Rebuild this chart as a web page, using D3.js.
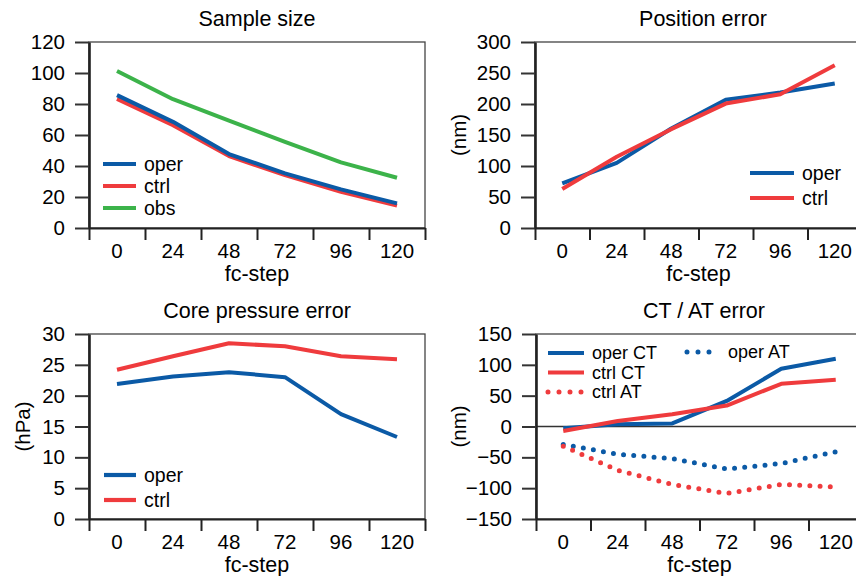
<!DOCTYPE html>
<html>
<head>
<meta charset="utf-8">
<script src="https://cdn.jsdelivr.net/npm/d3@7"></script>
<style>
  body { margin: 0; background: #fff; }
  svg { display: block; font-family: "Liberation Sans", Arial, sans-serif; }
</style>
</head>
<body>
<div id="chart"></div>
<script>
// forecast steps (hours)
const steps = ["0", "24", "48", "72", "96", "120"];

// Sample size
const sampleOper = [85.7, 68.5, 47.7, 35.2, 24.9, 15.9];
const sampleCtrl = [83.3, 66.3, 46.4, 34.1, 23.4, 14.4];
const sampleObs = [101.3, 83.1, 69.3, 55.6, 42.3, 32.4];

// Position error (nm)
const posOper = [71.9, 105, 160.5, 207, 218.4, 233];
const posCtrl = [62.8, 114.8, 159.4, 200.7, 215.7, 262.4];

// Core pressure error (hPa)
const presOper = [21.9, 23.1, 23.8, 23.0, 17.0, 13.3];
const presCtrl = [24.2, 26.4, 28.5, 28.0, 26.4, 25.9];

// CT / AT error (nm)
const ctOper = [-3, 3.5, 5, 41.5, 93.6, 110];
const ctCtrl = [-7.3, 9, 19.8, 34, 69.2, 75.7];
const atOper = [-29, -45, -52, -69, -60, -41];
const atCtrl = [-32, -71, -94, -108.5, -94, -98];

const yTicksSample = d3.range(0, 121, 20);
const yTicksPos = d3.range(0, 301, 50);
const yTicksPres = d3.range(0, 31, 5);
const yTicksCt = d3.range(-150, 151, 50);

const BLUE = "#0b5aa6", RED = "#ef3b3d", GREEN = "#3cb34a";

const svg = d3.select("#chart").append("svg")
  .attr("width", 856)
  .attr("height", 576);

function drawPanel(p) {
  const w = p.width, h = p.height;
  const g = svg.append("g").attr("transform", `translate(${p.left},${p.top})`);

  const x = d3.scaleBand().domain(steps).range([0, w]);
  const y = d3.scaleLinear().domain(p.domain).range([h, 0]);

  // frame
  g.append("rect")
    .attr("width", w).attr("height", h)
    .attr("fill", "none").attr("stroke", "#444").attr("stroke-width", 1.3);

  // zero line
  if (p.zero) {
    g.append("line")
      .attr("x1", 0).attr("x2", w)
      .attr("y1", y(0)).attr("y2", y(0))
      .attr("stroke", "#333").attr("stroke-width", 1.3);
  }

  // y axis
  g.append("g")
    .call(d3.axisLeft(y).tickValues(p.yTicks).tickSize(14).tickPadding(10).tickSizeOuter(0))
    .call(a => a.select(".domain").attr("stroke", "#222").attr("stroke-width", 2.6))
    .call(a => a.selectAll(".tick line").attr("stroke", "#333").attr("stroke-width", 2))
    .call(a => a.selectAll("text").attr("fill", "#000").style("font-size", "20.5px"));

  // x axis: tick marks at band edges, labels at band centres
  const edge = d3.scaleLinear().domain([0, steps.length]).range([0, w]);
  g.append("g")
    .attr("transform", `translate(0,${h})`)
    .call(d3.axisBottom(edge).ticks(steps.length).tickSize(12).tickFormat("").tickSizeOuter(0))
    .call(a => a.select(".domain").attr("stroke", "#222").attr("stroke-width", 2))
    .call(a => a.selectAll(".tick line").attr("stroke", "#222").attr("stroke-width", 2));

  g.append("g")
    .attr("transform", `translate(0,${h})`)
    .call(d3.axisBottom(x).tickSize(0).tickPadding(15.5))
    .call(a => a.select(".domain").remove())
    .call(a => a.selectAll("text").attr("fill", "#000").style("font-size", "20.5px"));

  g.append("text")
    .attr("x", w / 2).attr("y", h + 53)
    .attr("text-anchor", "middle")
    .attr("fill", "#000")
    .style("font-size", "21.5px")
    .text("fc-step");

  g.append("text")
    .attr("x", 168).attr("y", -16)
    .attr("text-anchor", "middle")
    .attr("fill", "#000")
    .style("font-size", "21.5px")
    .text(p.title);

  if (p.unit) {
    g.append("text")
      .attr("transform", `translate(${p.unitX},${h / 2}) rotate(-90)`)
      .attr("text-anchor", "middle")
      .attr("dominant-baseline", "central")
      .attr("fill", "#000")
      .style("font-size", "20.5px")
      .text(p.unit);
  }

  const line = d3.line()
    .x((d, i) => x(steps[i]) + x.bandwidth() / 2)
    .y(d => y(d));

  p.series.forEach(s => {
    g.append("path")
      .datum(s.values)
      .attr("fill", "none")
      .attr("stroke", s.color)
      .attr("stroke-width", s.dotted ? 5 : 4)
      .attr("stroke-linecap", s.dotted ? "round" : "butt")
      .attr("stroke-linejoin", "round")
      .attr("stroke-dasharray", s.dotted ? "0 10.2" : null)
      .attr("d", line);
  });

  // legend
  p.legend.forEach(l => {
    const s = p.series.find(d => d.name === l.name);
    g.append("line")
      .attr("x1", l.x).attr("x2", l.x + l.len)
      .attr("y1", l.y).attr("y2", l.y)
      .attr("stroke", s.color)
      .attr("stroke-width", s.dotted ? 5 : 4.2)
      .attr("stroke-linecap", s.dotted ? "round" : "butt")
      .attr("stroke-dasharray", s.dotted ? "0 11" : null);
    g.append("text")
      .attr("x", l.x + l.len + 8).attr("y", l.y)
      .attr("dominant-baseline", "central")
      .attr("fill", "#000")
      .style("font-size", (p.legendSize || 19.5) + "px")
      .text(l.name);
  });
}

drawPanel({
  title: "Sample size", left: 89, top: 42, width: 336, height: 186,
  domain: [0, 120], yTicks: yTicksSample,
  series: [
    { name: "obs", values: sampleObs, color: GREEN },
    { name: "ctrl", values: sampleCtrl, color: RED },
    { name: "oper", values: sampleOper, color: BLUE }
  ],
  legend: [
    { name: "oper", x: 14, y: 122, len: 33 },
    { name: "ctrl", x: 14, y: 144, len: 33 },
    { name: "obs", x: 14, y: 166, len: 33 }
  ]
});

drawPanel({
  title: "Position error", left: 535, top: 42, width: 327, height: 186,
  domain: [0, 300], yTicks: yTicksPos, unit: "(nm)", unitX: -77,
  series: [
    { name: "oper", values: posOper, color: BLUE },
    { name: "ctrl", values: posCtrl, color: RED }
  ],
  legend: [
    { name: "oper", x: 215, y: 131, len: 44 },
    { name: "ctrl", x: 215, y: 156, len: 44 }
  ]
});

drawPanel({
  title: "Core pressure error", left: 89, top: 334, width: 336, height: 185,
  domain: [0, 30], yTicks: yTicksPres, unit: "(hPa)", unitX: -67,
  series: [
    { name: "oper", values: presOper, color: BLUE },
    { name: "ctrl", values: presCtrl, color: RED }
  ],
  legend: [
    { name: "oper", x: 15, y: 141, len: 32 },
    { name: "ctrl", x: 15, y: 166, len: 32 }
  ]
});

drawPanel({
  title: "CT / AT error", left: 536, top: 334, width: 327, height: 185, zero: true,
  domain: [-150, 150], yTicks: yTicksCt, unit: "(nm)", unitX: -78, legendSize: 18,
  series: [
    { name: "oper AT", values: atOper, color: BLUE, dotted: true },
    { name: "ctrl AT", values: atCtrl, color: RED, dotted: true },
    { name: "oper CT", values: ctOper, color: BLUE },
    { name: "ctrl CT", values: ctCtrl, color: RED }
  ],
  legend: [
    { name: "oper CT", x: 12, y: 19, len: 36 },
    { name: "ctrl CT", x: 12, y: 38.5, len: 36 },
    { name: "ctrl AT", x: 12, y: 58, len: 36 },
    { name: "oper AT", x: 151, y: 18, len: 33 }
  ]
});
</script>
</body>
</html>
